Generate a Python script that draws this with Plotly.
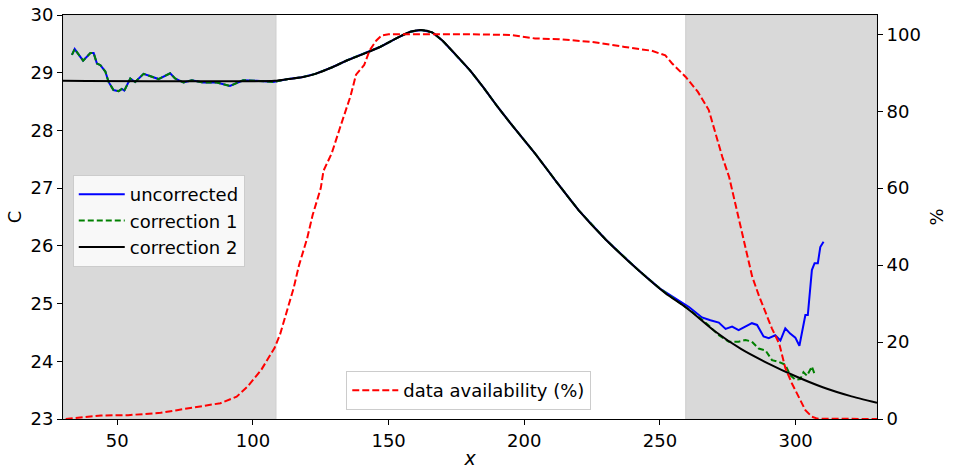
import plotly.graph_objects as go

# ---- data ----
# correction 2 (black)
x_corr2 = [30, 108, 113, 118, 123, 129, 135, 141, 147, 153, 158, 162, 166, 170, 175, 180, 185, 190,
           196, 204, 212, 220, 230, 242, 252, 260, 270, 280, 290, 300, 310, 320, 330]
c_corr2 = [28.86, 28.86, 28.89, 28.92, 28.98, 29.09, 29.22, 29.33, 29.45, 29.6, 29.71, 29.74, 29.7,
           29.55, 29.3, 29.04, 28.74, 28.42, 28.06, 27.6, 27.1, 26.62, 26.11, 25.58, 25.18, 24.92,
           24.53, 24.21, 23.96, 23.74, 23.55, 23.4, 23.28]

# shared left part (uncorrected and correction 1 coincide)
x_left = [33.3, 34.3, 37.4, 40.1, 41.3, 42.5, 43.8, 45.6, 46.8, 48.6, 50.5, 51.7, 52.6, 54.8, 56.6,
          59.7, 62.8, 65.2, 69.5, 71.3, 74.4, 77.5, 81.7, 86.7, 91.5, 96.4, 101.4, 107.5,
          113, 118, 123, 129, 135, 141, 147, 153, 158, 162, 166, 170, 175, 180, 185, 190, 196,
          204, 212, 220, 230, 242, 250]
c_left = [29.31, 29.41, 29.21, 29.34, 29.34, 29.16, 29.13, 29.02, 28.84, 28.7, 28.68, 28.72, 28.69,
          28.9, 28.84, 28.98, 28.93, 28.89, 28.99, 28.9, 28.83, 28.87, 28.83, 28.83, 28.77, 28.87,
          28.86, 28.84,
          28.89, 28.92, 28.98, 29.09, 29.22, 29.33, 29.45, 29.6, 29.71, 29.74, 29.7, 29.55, 29.3,
          29.04, 28.74, 28.42, 28.06, 27.6, 27.1, 26.62, 26.11, 25.58, 25.26]

# uncorrected right part
x_unc_r = [254.5, 258.2, 260.7, 263.1, 265.5, 268.6, 271.7, 274.2, 276.6, 279, 281.5, 283.9, 285.8,
           288.2, 290.1, 292.5, 294.4, 296.2, 298, 299.9, 301.4, 303.6, 304.5, 306, 307, 308.2,
           309.1, 310.3]
c_unc_r = [25.13, 25.01, 24.94, 24.85, 24.76, 24.71, 24.67, 24.56, 24.6, 24.54, 24.6, 24.66, 24.63,
           24.43, 24.4, 24.45, 24.36, 24.57, 24.48, 24.41, 24.27, 24.8, 24.8, 25.58, 25.7, 25.7,
           25.98, 26.07]

# correction 1 right part
x_c1_r = [254.5, 258.2, 262, 265.5, 268, 271.7, 275.4, 279, 281.5, 283.9, 286.4, 288.9, 291.3,
          293.8, 296.2, 298, 299.9, 301.7, 302.9, 304.2, 306, 307.2]
c_c1_r = [25.11, 24.98, 24.85, 24.72, 24.62, 24.45, 24.34, 24.34, 24.37, 24.34, 24.22, 24.19, 24.02,
          23.99, 23.94, 23.76, 23.68, 23.69, 23.81, 23.75, 23.91, 23.75]

x_unc = x_left + x_unc_r
c_unc = c_left + c_unc_r
x_c1 = x_left + x_c1_r
c_c1 = c_left + c_c1_r

# data availability (%)
x_avail = [31, 36, 44, 54, 66, 72, 80, 88, 94, 98, 103, 106, 108, 110, 112, 115, 117, 120, 122, 125,
           126, 129, 132, 134, 136, 138, 141, 143, 145.5, 147.5, 150, 160, 180, 195, 200, 204, 213,
           220, 225, 237, 247, 252, 254.5, 259.5, 264, 268, 270.5, 273, 275.5, 279, 281.5, 284,
           286.5, 289, 291.3, 294, 296.2, 298.6, 301, 303.6, 306, 308, 330]
p_avail = [0, 0.3, 0.9, 1.0, 1.6, 2.3, 3.2, 4.1, 5.8, 8.4, 12.7, 16.2, 18.5, 22, 27, 34, 40, 47, 53,
           60, 64.5, 69, 75.5, 80, 84, 89.5, 92, 95.8, 98.4, 99.7, 100, 100, 100, 99.8, 99.3, 98.9,
           98.7, 98.4, 98, 96.7, 95.7, 94.5, 92.4, 88.9, 85, 80.3, 74.2, 68.1, 62.9, 52, 44.5, 37,
           32, 27.5, 23.5, 19.5, 13.3, 9.3, 5.8, 2.3, 0.6, 0.1, 0]

shade_regions = [(30, 108.5), (259.5, 330)]

# ---- figure ----
FONT = "DejaVu Sans"
fig = go.Figure()

fig.add_trace(go.Scatter(x=x_unc, y=c_unc, mode="lines", name="uncorrected",
                         line=dict(color="#0000ff", width=2), legend="legend"))
fig.add_trace(go.Scatter(x=x_c1, y=c_c1, mode="lines", name="correction 1",
                         line=dict(color="#008000", width=2, dash="6px,3px"), legend="legend"))
fig.add_trace(go.Scatter(x=x_corr2, y=c_corr2, mode="lines", name="correction 2",
                         line=dict(color="black", width=2, shape="spline", smoothing=0.6),
                         legend="legend"))
fig.add_trace(go.Scatter(x=x_avail, y=p_avail, mode="lines", name="data availability (%)",
                         line=dict(color="#ff0000", width=2, dash="7px,3px"),
                         yaxis="y2", legend="legend2"))

for x0, x1 in shade_regions:
    fig.add_shape(type="rect", xref="x", yref="paper", x0=x0, x1=x1, y0=0, y1=1,
                  fillcolor="#d9d9d9", line=dict(color="#cfcfcf", width=1), layer="below")

axis_common = dict(showline=True, linecolor="black", linewidth=1, ticks="outside", ticklen=5,
                   tickcolor="black", showgrid=False, zeroline=False, automargin=False,
                   tickfont=dict(family=FONT, size=18, color="black"))

fig.update_layout(
    width=955, height=469,
    margin=dict(l=63, r=78, t=15, b=50),
    plot_bgcolor="white", paper_bgcolor="white",
    font=dict(family=FONT, size=18, color="black"),
    xaxis=dict(range=[30, 330], tickvals=[50, 100, 150, 200, 250, 300], mirror=True,
               title=dict(text="<i>x</i>", standoff=4, font=dict(family=FONT, size=19)),
               **axis_common),
    yaxis=dict(range=[23, 30], tickvals=[23, 24, 25, 26, 27, 28, 29, 30], mirror=True,
               title=dict(text="C", standoff=4, font=dict(family=FONT, size=18)),
               **axis_common),
    yaxis2=dict(range=[0, 105], tickvals=[0, 20, 40, 60, 80, 100], overlaying="y", side="right",
                title=dict(text="%", standoff=10, font=dict(family=FONT, size=18)),
                **axis_common),
    legend=dict(x=0.012, y=0.604, xanchor="left", yanchor="top", itemwidth=46,
                bgcolor="rgba(255,255,255,0.8)", bordercolor="#cccccc", borderwidth=1,
                font=dict(family=FONT, size=18)),
    legend2=dict(x=0.348, y=0.022, xanchor="left", yanchor="bottom", itemwidth=46,
                 bgcolor="rgba(255,255,255,0.8)", bordercolor="#cccccc", borderwidth=1,
                 font=dict(family=FONT, size=18)),
)

fig.write_html("out.html")
